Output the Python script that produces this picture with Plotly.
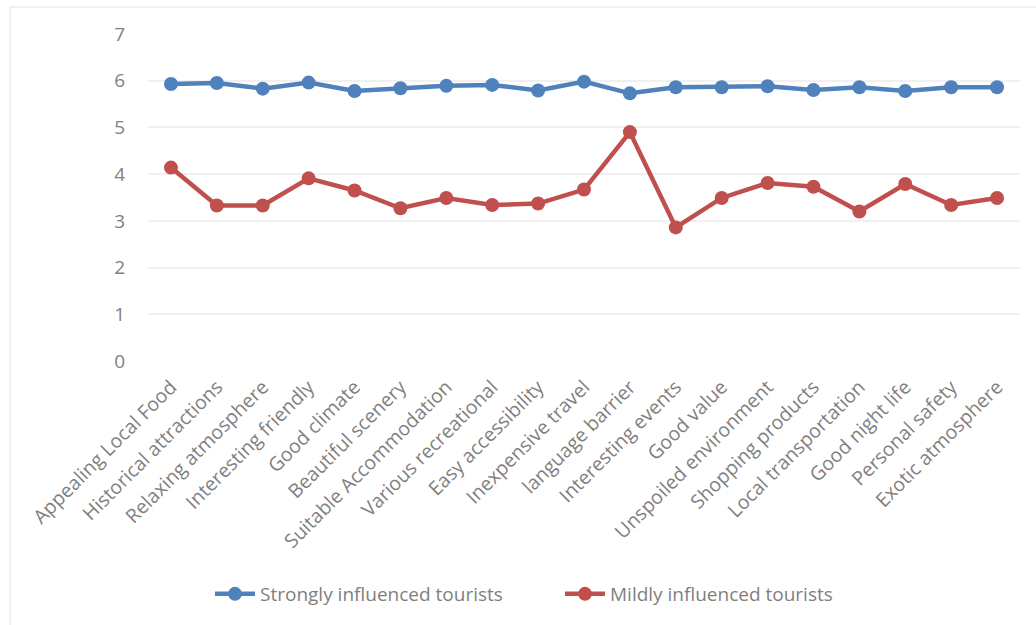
import plotly.graph_objects as go

categories = ["Appealing Local Food", "Historical attractions", "Relaxing atmosphere",
              "Interesting friendly", "Good climate", "Beautiful scenery",
              "Suitable Accommodation", "Various recreational", "Easy accessibility",
              "Inexpensive travel", "language barrier", "Interesting events", "Good value",
              "Unspoiled environment", "Shopping products", "Local transportation",
              "Good night life", "Personal safety", "Exotic atmosphere"]
strongly = [5.93, 5.95, 5.83, 5.96, 5.78, 5.84, 5.89, 5.91, 5.79, 5.98, 5.73, 5.86,
            5.86, 5.88, 5.80, 5.86, 5.78, 5.86, 5.86]
mildly = [4.14, 3.33, 3.33, 3.91, 3.65, 3.27, 3.49, 3.34, 3.37, 3.67, 4.90, 2.86,
          3.49, 3.81, 3.73, 3.20, 3.79, 3.34, 3.49]
y_ticks = [0, 1, 2, 3, 4, 5, 6, 7]

W, H = 1036, 625
L, R, T, B = 148, 1020, 34, 361

fig = go.Figure()
fig.add_trace(go.Scatter(x=categories, y=strongly, mode="lines+markers",
                         name="Strongly influenced tourists",
                         line=dict(color="#4F81BD", width=4.5),
                         marker=dict(color="#4F81BD", size=14)))
fig.add_trace(go.Scatter(x=categories, y=mildly, mode="lines+markers",
                         name="Mildly influenced tourists",
                         line=dict(color="#C0504D", width=4.5),
                         marker=dict(color="#C0504D", size=14)))

pw, ph = R - L, B - T
fig.add_shape(type="rect", xref="paper", yref="paper",
              x0=(10 - L) / pw, x1=(1045 - L) / pw,
              y0=(B - 640) / ph, y1=(B - 7) / ph,
              line=dict(color="#EDEDED", width=1.5), fillcolor="rgba(0,0,0,0)", layer="below")

fig.update_layout(
    width=W, height=H,
    margin=dict(l=L, r=W - R, t=T, b=H - B, pad=0),
    paper_bgcolor="white", plot_bgcolor="white",
    font=dict(family="Open Sans, Liberation Sans, sans-serif", color="#7F7F7F"),
    showlegend=True,
    legend=dict(orientation="h", x=(210 - L) / pw, xanchor="left", y=(B - 594) / ph,
                yanchor="middle", font=dict(size=19, color="#7F7F7F"),
                itemwidth=40, entrywidth=295, tracegroupgap=0),
    xaxis=dict(type="category", range=[-0.5, len(categories) - 0.5], tickangle=-45,
               showgrid=False, showline=False, zeroline=False, ticks="outside",
               ticklen=6, tickcolor="rgba(0,0,0,0)",
               tickfont=dict(size=19.5, color="#7F7F7F")),
    yaxis=dict(range=[0, 7], tickvals=y_ticks, showgrid=True, gridcolor="#F0F0F0",
               gridwidth=1.5, zeroline=False, showline=False, ticks="outside",
               ticklen=18, tickcolor="rgba(0,0,0,0)",
               tickfont=dict(size=19, color="#7F7F7F")),
)

fig.write_html("out.html")
